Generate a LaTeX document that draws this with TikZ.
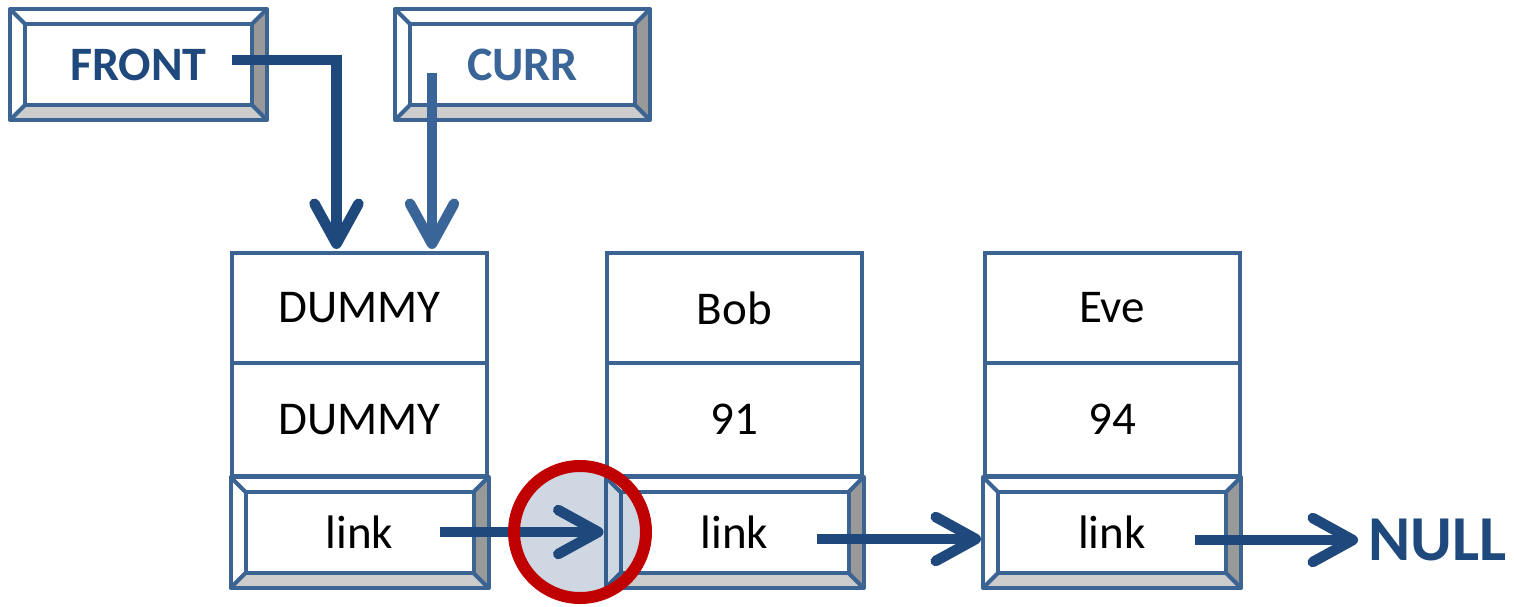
\documentclass[tikz,border=0pt]{standalone}
\usepackage{fontspec}
\setmainfont{Carlito}
\usetikzlibrary{arrows.meta}
\definecolor{bord}{HTML}{3B6493}
\definecolor{darkb}{HTML}{1F497D}
\definecolor{curc}{HTML}{3A6599}
\definecolor{gdark}{HTML}{999999}
\definecolor{glight}{HTML}{CCCCCC}
\definecolor{ringc}{HTML}{C00000}
\newcommand\bevelframe[2]{%
 \fill[gdark] (#1.north east) -- (#1.south east) -- ([shift={(-#2,-#2)}]#1.south east) -- ([shift={(-#2,#2)}]#1.north east) -- cycle;
 \fill[glight] (#1.south west) -- (#1.south east) -- ([shift={(-#2,-#2)}]#1.south east) -- ([shift={(#2,-#2)}]#1.south west) -- cycle;
 \draw[bline] (#1.north west) -- ([shift={(#2,#2)}]#1.north west)
   (#1.north east) -- ([shift={(-#2,#2)}]#1.north east)
   (#1.south east) -- ([shift={(-#2,-#2)}]#1.south east)
   (#1.south west) -- ([shift={(#2,-#2)}]#1.south west);
 \draw[bline] (#1.north west) rectangle (#1.south east);
 \draw[bline] ([shift={(#2,#2)}]#1.north west) rectangle ([shift={(-#2,-#2)}]#1.south east);
}
\begin{document}
\begin{tikzpicture}[x=1pt,y=-1pt,
  bline/.style={draw=bord, line width=4pt, line join=round},
  cell/.style={rectangle, draw=bord, line width=4pt, fill=white, minimum width=255pt,
    outer sep=0pt, inner sep=0pt, text=black, font=\fontsize{47}{50}\selectfont},
  bevbox/.style={rectangle, fill=white, outer sep=0pt, inner sep=0pt,
    font=\fontsize{47}{50}\selectfont},
  ptr/.style={line width=10.5pt, -{Straight Barb[length=40pt,width=44pt,round]}},
]
\useasboundingbox (0,0) rectangle (1514,606);

% pointer boxes
\node[bevbox, minimum width=257pt, minimum height=111pt, text=darkb, font=\fontsize{48}{50}\selectfont\bfseries] (front) at (138.5,64.5) {FRONT};
\bevelframe{front}{15}
\node[bevbox, minimum width=255pt, minimum height=111pt, text=curc, font=\fontsize{48}{50}\selectfont\bfseries] (curr) at (522.5,64.5) {CURR};
\bevelframe{curr}{15}

% node 1
\node[cell, minimum height=110pt] (d1) at (359.5,308) {DUMMY};
\node[cell, minimum height=113pt] (v1) at (359.5,419.5) {DUMMY};
\node[bevbox, minimum width=258pt, minimum height=111pt] (l1) at (359.5,532.5) {link};
\bevelframe{l1}{15}
% node 2
\node[cell, minimum height=110pt] (d2) at (734.5,308) {Bob};
\node[cell, minimum height=113pt] (v2) at (734.5,419.5) {91};
\node[bevbox, minimum width=258pt, minimum height=111pt] (l2) at (734.5,532.5) {link};
\bevelframe{l2}{15}
% node 3
\node[cell, minimum height=110pt] (d3) at (1112,308) {Eve};
\node[cell, minimum height=113pt] (v3) at (1112,419.5) {94};
\node[bevbox, minimum width=258pt, minimum height=111pt] (l3) at (1112,532.5) {link};
\bevelframe{l3}{15}

\node[text=darkb, font=\fontsize{64}{66}\selectfont\bfseries, anchor=west, inner sep=0pt] (null) at (1368,540) {NULL};

% highlight fill
\node[circle, minimum size=132pt, fill=darkb, fill opacity=0.22, inner sep=0pt, outer sep=0pt] (hl) at (580,532) {};

% pointers
\coordinate (fs) at (232,60);
\coordinate (cs) at (432,73);
\coordinate (s1) at (440,532);
\coordinate (s2) at (817,539);
\coordinate (s3) at (1195,540);
\draw[ptr, darkb] (fs) -| ([xshift=-23pt,yshift=4pt]d1.north);
\draw[ptr, curc] (cs) -- ([yshift=4pt]cs |- d1.north);
\draw[ptr, darkb] (s1) -- ([xshift=-2pt]s1 -| l2.west);
\draw[ptr, darkb] (s2) -- ([xshift=-2pt]s2 -| l3.west);
\draw[ptr, darkb] (s3) -- ([xshift=-10pt]s3 -| null.west);

% highlight ring
\node[circle, minimum size=132pt, draw=ringc, line width=12pt, inner sep=0pt, outer sep=0pt] (ring) at (hl) {};
\end{tikzpicture}
\end{document}
